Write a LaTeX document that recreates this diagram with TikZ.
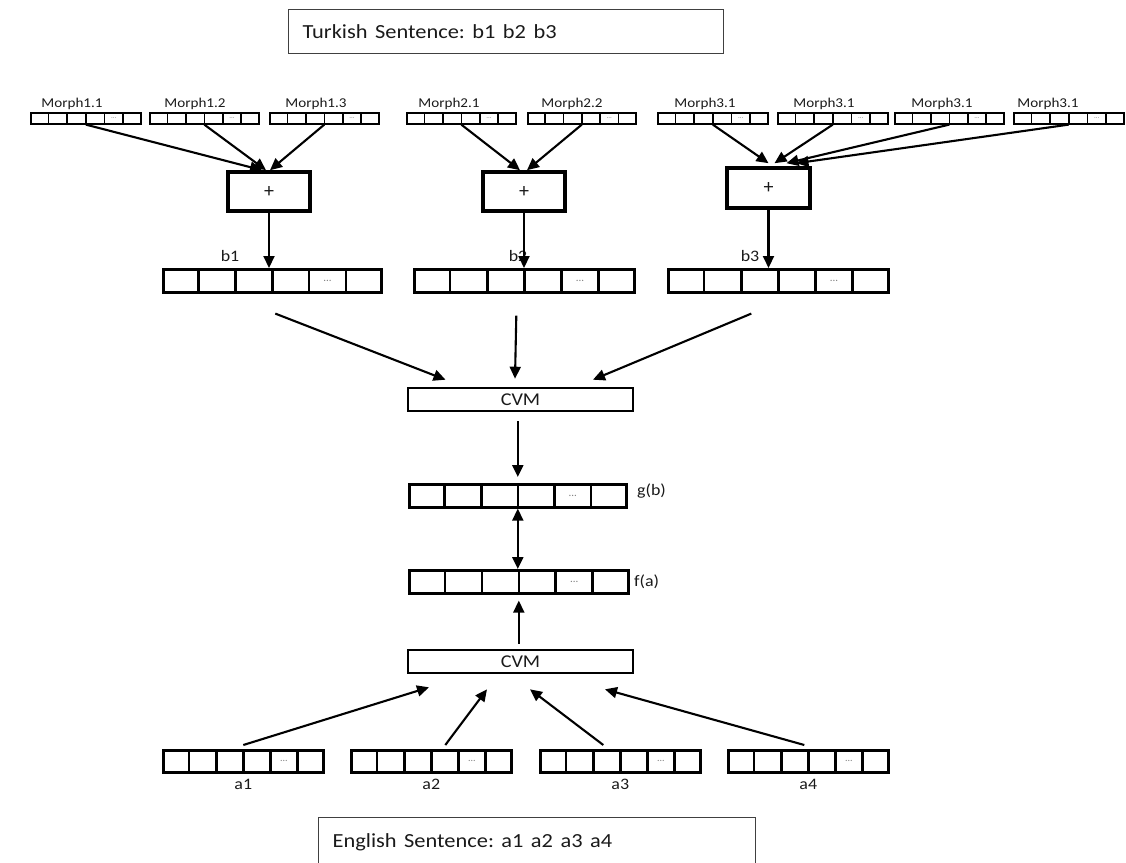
\documentclass[tikz,border=0pt]{standalone}
\usepackage{fontspec}
\usepackage{graphicx}
\setmainfont{Carlito}
\usetikzlibrary{calc,arrows.meta}
\definecolor{txt}{HTML}{1A1A1A}
\frenchspacing
\newcommand\stretchtxt[1]{\scalebox{1.12}[1]{#1}}
\newcommand\fs[1]{\fontsize{#1}{#1}\selectfont}
% name, x-left, y-top, width, height, line width, dots font size
\newcommand\cellvec[7]{%
  \node[vecbox, line width=#6, minimum width=#4pt, minimum height=#5pt] (#1) at (#2,#3) {};
  \foreach \k in {1,...,5}{\draw[line width=#6] ($(#1.north west)!\k/6!(#1.north east)$) -- ($(#1.south west)!\k/6!(#1.south east)$);}
  \node[dotsty, font=\fs{#7}] (#1dots) at ($(#1.west)!0.75!(#1.east)$) {...};
}
\begin{document}
\begin{tikzpicture}[x=1pt,y=-1pt,
  arr/.style={line width=2.1pt,-{Triangle[length=12pt,width=11pt]}},
  darr/.style={line width=2.1pt,{Triangle[length=12pt,width=11pt]}-{Triangle[length=12pt,width=11pt]}},
  vecbox/.style={draw,inner sep=0pt,anchor=north west},
  dotsty/.style={text=gray,inner sep=0pt},
  plusbox/.style={draw,line width=3.6pt,inner sep=0pt,text=txt,font=\fs{20}},
  cvmbox/.style={draw,line width=2.6pt,inner sep=0pt,minimum width=225pt,minimum height=23pt,text=txt,font=\fs{18}},
  lbl/.style={text=txt,inner sep=0pt},
  mlbl/.style={lbl,font=\fs{13.5}},
  sentbox/.style={draw=black!75,line width=1.4pt,anchor=north west,inner xsep=14pt,inner ysep=0pt,align=left,text=txt,font=\fs{20}},
]
\clip (0,0) rectangle (1126,862);
\useasboundingbox (0,0) rectangle (1126,862);

% sentence boxes
\node[sentbox,minimum height=44pt,text width=407pt] (tk) at (288,9) {\stretchtxt{Turkish Sentence: b1 b2 b3}};
\node[sentbox,minimum height=50pt,text width=409pt] (en) at (318,817) {\stretchtxt{English Sentence: a1 a2 a3 a4}};

% morph vectors
\cellvec{m11}{30}{112}{110}{11}{1.6pt}{7}
\cellvec{m12}{149}{112}{109}{11}{1.6pt}{7}
\cellvec{m13}{269}{112}{109}{11}{1.6pt}{7}
\cellvec{m21}{406}{112}{109}{11}{1.6pt}{7}
\cellvec{m22}{527}{112}{108}{11}{1.6pt}{7}
\cellvec{m31}{657}{112}{110}{11}{1.6pt}{7}
\cellvec{m32}{777}{112}{110}{11}{1.6pt}{7}
\cellvec{m33}{894}{112}{109}{11}{1.6pt}{7}
\cellvec{m34}{1013}{112}{110}{11}{1.6pt}{7}
\node[mlbl] (lm11) at (72,104) {\stretchtxt{Morph1.1}};
\node[mlbl] (lm12) at (195,104) {\stretchtxt{Morph1.2}};
\node[mlbl] (lm13) at (316,104) {\stretchtxt{Morph1.3}};
\node[mlbl] (lm21) at (449,104) {\stretchtxt{Morph2.1}};
\node[mlbl] (lm22) at (572,104) {\stretchtxt{Morph2.2}};
\node[mlbl] (lm31) at (705,104) {\stretchtxt{Morph3.1}};
\node[mlbl] (lm32) at (824,104) {\stretchtxt{Morph3.1}};
\node[mlbl] (lm33) at (942,104) {\stretchtxt{Morph3.1}};
\node[mlbl] (lm34) at (1048,104) {\stretchtxt{Morph3.1}};

% plus boxes
\node[plusbox,minimum width=82pt,minimum height=39pt] (p1) at (269,191.5) {+};
\node[plusbox,minimum width=82pt,minimum height=39pt] (p2) at (524,191.5) {+};
\node[plusbox,minimum width=83pt,minimum height=40pt] (p3) at (768.5,188) {+};

\draw[arr] (m11.south) -- ([xshift=-7pt]p1.north);
\draw[arr] (m12.south) -- ([xshift=-3pt]p1.north);
\draw[arr] (m13.south) -- ([xshift=1pt]p1.north);
\draw[arr] (m21.south) -- ([xshift=-4pt]p2.north);
\draw[arr] (m22.south) -- ([xshift=3pt]p2.north);
\draw[arr] (m31.south) -- ([xshift=0pt,yshift=3pt]p3.north);
\draw[arr] (m32.south) -- ([xshift=6pt,yshift=3pt]p3.north);
\draw[arr] (m33.south) -- ([xshift=18pt,yshift=3pt]p3.north);
\draw[arr] (m34.south) -- ([xshift=28pt,yshift=3pt]p3.north);

% b vectors
\cellvec{b1v}{162}{268}{218}{23}{2.6pt}{11}
\cellvec{b2v}{413}{268}{220}{23}{2.6pt}{11}
\cellvec{b3v}{667}{268}{220}{23}{2.6pt}{11}
\node[lbl,font=\fs{16}] (lb1) at (230,256) {\stretchtxt{b1}};
\node[lbl,font=\fs{16}] (lb2) at (518,256) {\stretchtxt{b2}};
\node[lbl,font=\fs{16}] (lb3) at (750,256) {\stretchtxt{b3}};
\draw[arr] (p1.south) -- (p1.south |- b1v.north);
\draw[arr] (p2.south) -- (p2.south |- b2v.north);
\draw[arr] (p3.south) -- (p3.south |- b3v.north);

% CVM top
\node[cvmbox] (cvm1) at (520.5,399.5) {\stretchtxt{CVM}};
\draw[arr] ([shift={(3pt,-20pt)}]b1v.south) -- ([xshift=-75pt,yshift=7pt]cvm1.north);
\draw[arr] ([shift={(-8pt,-22pt)}]b2v.south) -- ([xshift=-5.5pt,yshift=8pt]cvm1.north);
\draw[arr] ([shift={(-27pt,-20pt)}]b3v.south) -- ([xshift=72.5pt,yshift=7pt]cvm1.north);

% g(b), f(a)
\cellvec{gb}{408}{483}{217}{23}{2.6pt}{11}
\cellvec{fa}{408}{569}{219}{23}{2.6pt}{11}
\node[lbl,font=\fs{16},anchor=west] (lgb) at (637,491) {\stretchtxt{g(b)}};
\node[lbl,font=\fs{16},anchor=west] (lfa) at (634,582) {\stretchtxt{f(a)}};
\draw[arr,shorten <=9pt,shorten >=6pt] (gb.north |- cvm1.south) -- (gb.north);
\draw[darr] (gb.south) -- (gb.south |- fa.north);

% CVM bottom
\node[cvmbox] (cvm2) at (520.5,661.5) {\stretchtxt{CVM}};
\draw[arr,shorten <=5pt,shorten >=6pt] (fa.south |- cvm2.north) -- (fa.south);

% a vectors
\cellvec{a1}{162}{749}{160}{22}{2.6pt}{10}
\cellvec{a2}{350}{749}{160}{22}{2.6pt}{10}
\cellvec{a3}{539}{749}{160}{22}{2.6pt}{10}
\cellvec{a4}{727}{749}{160}{22}{2.6pt}{10}
\node[lbl,font=\fs{16}] (la1) at ([yshift=-11pt]a1.south) {\stretchtxt{a1}};
\node[lbl,font=\fs{16}] (la2) at ([yshift=-11pt]a2.south) {\stretchtxt{a2}};
\node[lbl,font=\fs{16}] (la3) at ([yshift=-11pt]a3.south) {\stretchtxt{a3}};
\node[lbl,font=\fs{16}] (la4) at ([yshift=-11pt]a4.south) {\stretchtxt{a4}};
\draw[arr] ([yshift=4pt]a1.north) -- ([xshift=-91.5pt,yshift=-13pt]cvm2.south);
\draw[arr] ([shift={(14pt,4pt)}]a2.north) -- ([xshift=-33.5pt,yshift=-15pt]cvm2.south);
\draw[arr] ([shift={(-17pt,4pt)}]a3.north) -- ([xshift=9.5pt,yshift=-15pt]cvm2.south);
\draw[arr] ([shift={(-4pt,4pt)}]a4.north) -- ([xshift=84.5pt,yshift=-15pt]cvm2.south);
\end{tikzpicture}
\end{document}
